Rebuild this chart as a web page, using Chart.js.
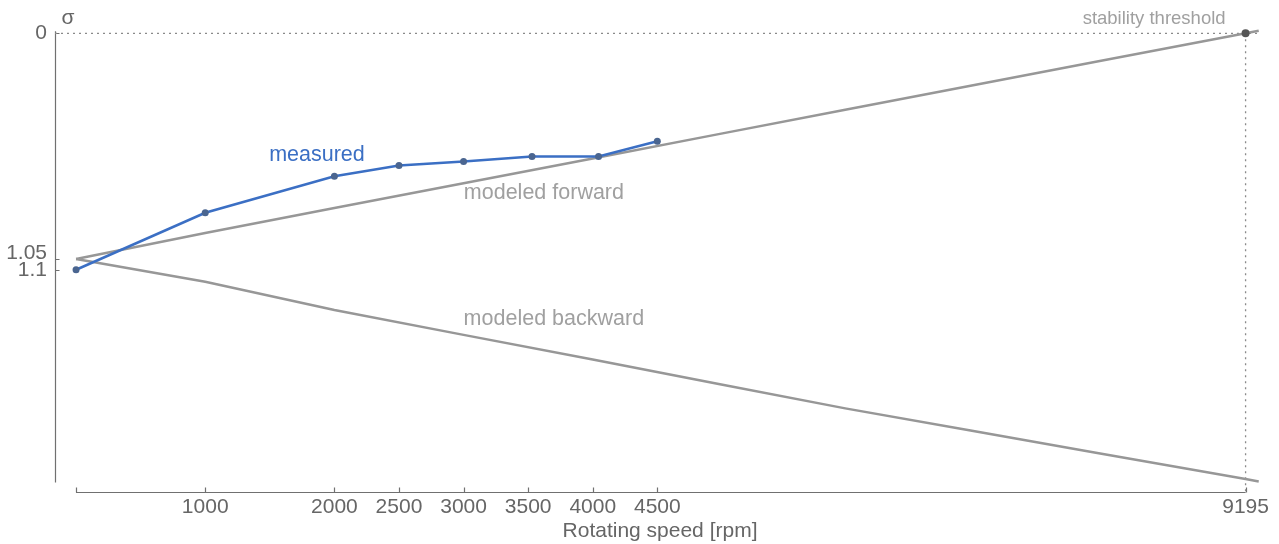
<!DOCTYPE html>
<html>
<head>
<meta charset="utf-8">
<script src="https://cdn.jsdelivr.net/npm/chart.js@4.4.1/dist/chart.umd.min.js"></script>
<style>
  html, body { margin: 0; padding: 0; background: #fff; }
  #wrap { width: 1279px; height: 544px; position: relative; }
</style>
</head>
<body>
<div id="wrap"><canvas id="chart"></canvas></div>
<script>
// Growth rate sigma vs rotating speed: measured points against the two
// modeled whirl branches, with the stability threshold marked at 9195 rpm.

const measuredRpm   = [0, 1000, 2000, 2500, 3000, 3530, 4045, 4500];
const measuredSigma = [1.10, 0.835, 0.665, 0.615, 0.596, 0.573, 0.573, 0.502];

const modelRpm      = [0, 1000, 2000, 3000, 4000, 5000, 6000, 7000, 8000, 9195, 9300];
const forwardSigma  = [1.05, 0.929, 0.813, 0.698, 0.582, 0.468, 0.356, 0.244, 0.132, 0, -0.012];
const backwardSigma = [1.05, 1.156, 1.287, 1.403, 1.518, 1.633, 1.745, 1.848, 1.951, 2.074, 2.085];

const thresholdRpm = 9195;
const thresholdSigma = 0;

const xTickValues = [0, 1000, 2000, 2500, 3000, 3500, 4000, 4500, 9195];
const yTickValues = [0, 1.05, 1.1];

const FONT = "'Liberation Sans', Arial, sans-serif";
const TICK = "#666666";
const AXIS = "#707070";
const MODEL = "#979797";
const NOTE = "#a0a0a0";
const BLUE = "#3b6fc4";
const DOT = "#4a6590";

// The source figure squeezes the range past 4500 rpm a little, so the
// x axis is a linear scale with a slightly compressed upper part.
const WARP_FROM = 4500;
const WARP_K = 0.97;

class WarpedScale extends Chart.LinearScale {
  warp(v) {
    return v <= WARP_FROM ? v : WARP_FROM + (v - WARP_FROM) * WARP_K;
  }
  unwarp(w) {
    return w <= WARP_FROM ? w : WARP_FROM + (w - WARP_FROM) / WARP_K;
  }
  getPixelForValue(value) {
    if (value === null || value === undefined) return NaN;
    const a = this.warp(this.min);
    const b = this.warp(this.max);
    return this.getPixelForDecimal((this.warp(value) - a) / (b - a));
  }
  getValueForPixel(pixel) {
    const a = this.warp(this.min);
    const b = this.warp(this.max);
    return this.unwarp(a + this.getDecimalForPixel(pixel) * (b - a));
  }
}
WarpedScale.id = "warped";
WarpedScale.defaults = Chart.LinearScale.defaults;
Chart.register(WarpedScale);

const pairs = (xs, ys) => xs.map((x, i) => ({ x, y: ys[i] }));

// ---------------------------------------------------------------------------
// Axis lines, inward tick marks and the text labels inside the plot
// ---------------------------------------------------------------------------
const overlay = {
  id: "overlay",
  beforeDatasetsDraw(chart) {
    const { ctx, chartArea: a, scales: { x, y } } = chart;
    const ax = a.left + 0.5;
    const ay = Math.round(a.bottom) + 0.5;
    ctx.save();
    ctx.strokeStyle = AXIS;
    ctx.lineWidth = 1.2;
    ctx.beginPath();
    ctx.moveTo(ax, y.getPixelForValue(-0.01));
    ctx.lineTo(ax, y.getPixelForValue(2.09));
    ctx.moveTo(x.getPixelForValue(0), ay);
    ctx.lineTo(x.getPixelForValue(thresholdRpm), ay);
    for (const t of x.ticks) {
      const px = Math.round(x.getPixelForValue(t.value)) + 0.5;
      ctx.moveTo(px, ay);
      ctx.lineTo(px, ay - 5);
    }
    for (const t of y.ticks) {
      const py = Math.round(y.getPixelForValue(t.value)) + 0.5;
      ctx.moveTo(ax, py);
      ctx.lineTo(ax + 4, py);
    }
    ctx.stroke();
    ctx.restore();
  },
  afterDraw(chart) {
    const { ctx, chartArea: a, scales: { x, y } } = chart;
    ctx.save();
    ctx.textBaseline = "middle";

    ctx.font = `21px ${FONT}`;
    ctx.fillStyle = TICK;
    ctx.textAlign = "center";
    ctx.fillText("σ", a.left + 13, y.getPixelForValue(thresholdSigma) - 15);

    const notes = [
      { text: "measured", rpm: 1865, sigma: 0.566, color: BLUE },
      { text: "modeled forward", rpm: 3622, sigma: 0.743, color: NOTE },
      { text: "modeled backward", rpm: 3699, sigma: 1.329, color: NOTE },
    ];
    ctx.font = `21.5px ${FONT}`;
    for (const n of notes) {
      ctx.fillStyle = n.color;
      ctx.fillText(n.text, x.getPixelForValue(n.rpm), y.getPixelForValue(n.sigma));
    }

    ctx.textAlign = "right";
    ctx.fillStyle = NOTE;
    ctx.font = `18.5px ${FONT}`;
    ctx.fillText("stability threshold",
      x.getPixelForValue(thresholdRpm) - 20, y.getPixelForValue(thresholdSigma) - 14);
    ctx.restore();
  },
};

new Chart(document.getElementById("chart"), {
  type: "line",
  data: {
    datasets: [
      {
        data: pairs(measuredRpm, measuredSigma),
        borderColor: BLUE,
        borderWidth: 2.5,
        pointRadius: 3.5,
        pointBackgroundColor: DOT,
        pointBorderWidth: 0,
        tension: 0,
      },
      {
        data: [{ x: thresholdRpm, y: thresholdSigma }],
        showLine: false,
        pointRadius: 4,
        pointBackgroundColor: "#555555",
        pointBorderWidth: 0,
        clip: false,
      },
      {
        data: pairs(modelRpm, forwardSigma),
        borderColor: MODEL,
        borderWidth: 2.5,
        pointRadius: 0,
        tension: 0,
        clip: false,
      },
      {
        data: pairs(modelRpm, backwardSigma),
        borderColor: MODEL,
        borderWidth: 2.5,
        pointRadius: 0,
        tension: 0,
        clip: false,
      },
      {
        data: [{ x: -163, y: thresholdSigma }, { x: 9300, y: thresholdSigma }],
        borderColor: "#8a8a8a",
        borderWidth: 1.3,
        borderDash: [2, 4],
        pointRadius: 0,
        clip: false,
      },
      {
        data: [{ x: thresholdRpm, y: thresholdSigma }, { x: thresholdRpm, y: 2.134 }],
        borderColor: "#8a8a8a",
        borderWidth: 1.3,
        borderDash: [2, 4],
        pointRadius: 0,
        clip: false,
      },
    ],
  },
  options: {
    responsive: true,
    maintainAspectRatio: false,
    animation: false,
    events: [],
    layout: { padding: { top: 29, right: 14, bottom: 0, left: 0 } },
    plugins: { legend: { display: false }, tooltip: { enabled: false } },
    scales: {
      x: {
        type: "warped",
        min: -163,
        max: 9350,
        grid: { display: false, drawTicks: false },
        border: { display: false },
        afterBuildTicks: (s) => { s.ticks = xTickValues.map((v) => ({ value: v })); },
        afterFit: (s) => { s.height = 52; },
        ticks: {
          autoSkip: false,
          maxRotation: 0,
          padding: 3,
          color: TICK,
          font: { family: FONT, size: 21 },
          callback: (v) => (v === 0 ? "" : String(v)),
        },
        title: {
          display: true,
          text: "Rotating speed [rpm]",
          color: TICK,
          font: { family: FONT, size: 21 },
          padding: 0,
        },
      },
      y: {
        type: "linear",
        reverse: true,
        min: -0.02,
        max: 2.134,
        grid: { display: false, drawTicks: false },
        border: { display: false },
        afterBuildTicks: (s) => { s.ticks = yTickValues.map((v) => ({ value: v })); },
        afterFit: (s) => { s.width = 55; },
        ticks: {
          autoSkip: false,
          padding: 8,
          color: TICK,
          font: { family: FONT, size: 21, lineHeight: 0.52 },
          // 1.05 sits just above 1.1, so lift it half a (short) line
          callback: (v) => (v === 1.05 ? ["1.05", ""] : String(v)),
        },
      },
    },
  },
  plugins: [overlay],
});
</script>
</body>
</html>
